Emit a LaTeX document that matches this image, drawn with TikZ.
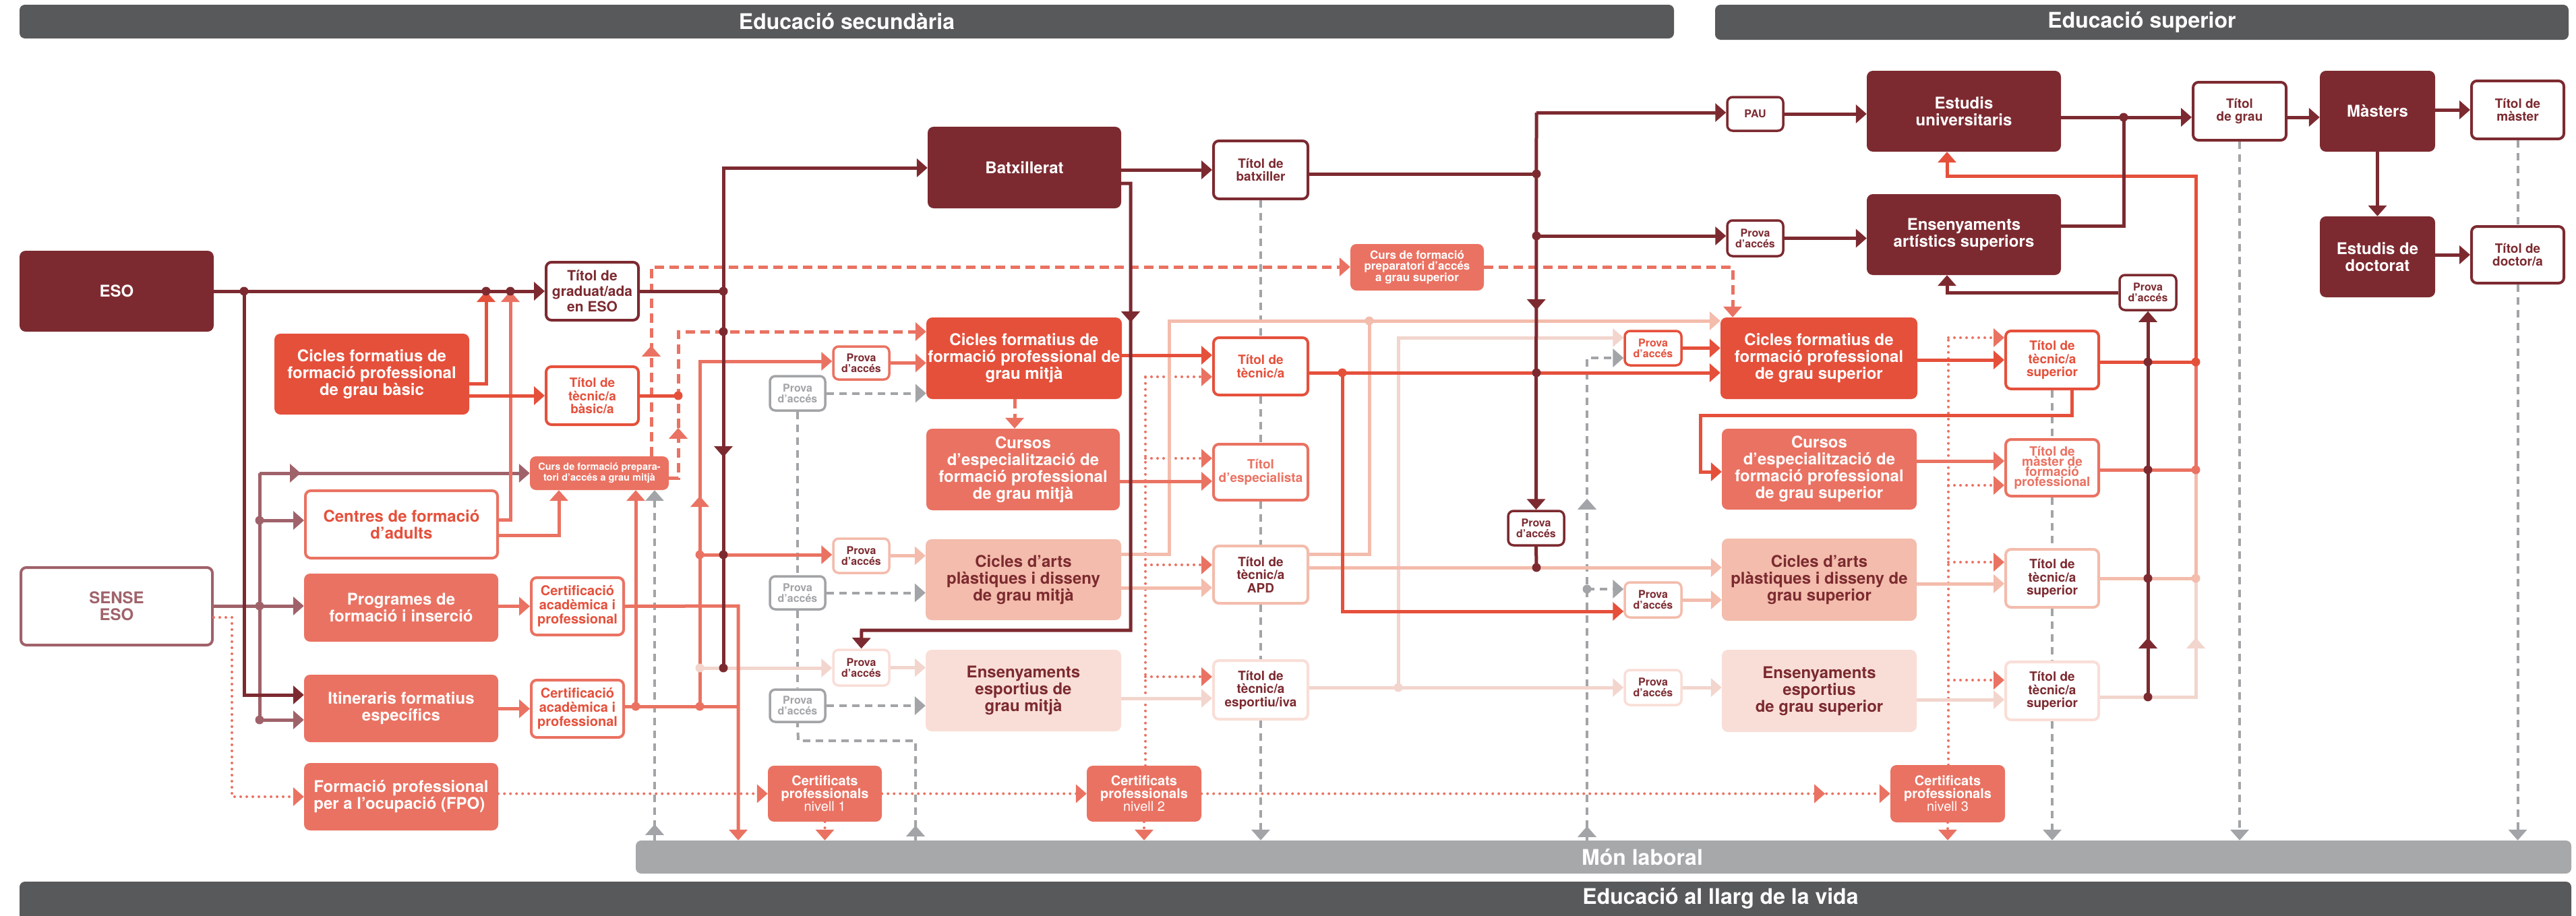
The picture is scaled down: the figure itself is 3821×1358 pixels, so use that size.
\documentclass[tikz,border=0pt]{standalone}
\usepackage{fontspec}
\setmainfont{TeX Gyre Heros}
\usetikzlibrary{arrows.meta,decorations.markings}

\definecolor{cdk}{RGB}{124,42,48}
\definecolor{crd}{RGB}{229,80,59}
\definecolor{csm}{RGB}{234,114,98}
\definecolor{cls}{RGB}{243,188,172}
\definecolor{cvl}{RGB}{249,222,215}
\definecolor{cvll}{RGB}{242,213,205}
\definecolor{cmv}{RGB}{160,98,106}
\definecolor{cgr}{RGB}{162,164,167}
\definecolor{cbar}{RGB}{88,89,91}
\definecolor{cmon}{RGB}{166,168,170}

\newcommand{\fbig}{\fontsize{24}{25}\selectfont\bfseries}
\newcommand{\ftit}{\fontsize{19}{19.5}\selectfont\bfseries}
\newcommand{\fgrad}{\fontsize{21}{23}\selectfont\bfseries}
\newcommand{\fprova}{\fontsize{16}{16}\selectfont\bfseries}
\newcommand{\fcert}{\fontsize{20}{21}\selectfont\bfseries}
\newcommand{\fcp}{\fontsize{20}{19}\selectfont\bfseries}
\newcommand{\fcurs}{\fontsize{14.5}{16}\selectfont\bfseries}
\newcommand{\fcpgs}{\fontsize{17}{16}\selectfont\bfseries}
\newcommand{\fmfp}{\fontsize{19}{15}\selectfont\bfseries}
\newcommand{\fhead}{\fontsize{32}{32}\selectfont\bfseries}

\begin{document}
\begin{tikzpicture}[x=1pt, y=-1pt,
    >={Triangle[length=16pt,width=27pt]},
    wh/.style 2 args={minimum width=#1pt, minimum height=#2pt},
    bigbox/.style={rounded corners=9pt, inner sep=0pt, align=center, font=\fbig, text=white},
    titbox/.style={draw, line width=4pt, fill=white, rounded corners=8pt, inner sep=0pt, align=center, font=\ftit},
    provabox/.style={titbox, line width=3.5pt, font=\fprova},
    barbox/.style={rounded corners=8pt, inner sep=0pt, text=white, font=\fhead},
    dkl/.style={draw=cdk, line width=5pt},
    rdl/.style={draw=crd, line width=5pt},
    sml/.style={draw=csm, line width=5pt},
    lsl/.style={draw=cls, line width=5pt},
    vll/.style={draw=cvll, line width=5pt},
    mvl/.style={draw=cmv, line width=5pt},
    grl/.style={draw=cgr, line width=4pt, dash pattern=on 11pt off 8pt},
    dtl/.style={draw=csm, line width=4pt, line cap=round, dash pattern=on 0pt off 9pt},
    dsl/.style={draw=csm, line width=5pt, dash pattern=on 14pt off 8pt},
    tipat/.style={postaction={decorate, decoration={markings, mark=at position #1 with {\arrow{>}}}}},
    twotips/.style 2 args={postaction={decorate, decoration={markings,
        mark=at position #1 with {\arrow{>}}, mark=at position #2 with {\arrow{>}}}}}
  ]
  \useasboundingbox (0,0) rectangle (3821,1358);

  % bars
  \node[barbox, fill=cbar, wh={2454}{50}] (hsec) at (1256,32) {Educació secundària};
  \node[barbox, fill=cbar, wh={1266}{52}] (hsup) at (3177,33) {Educació superior};
  \node[barbox, fill=cmon, wh={2871}{49}] (mon) at (2378.5,1271.5) {};
  \node[text=white, font=\fhead] (monlab) at (2436,1272) {Món laboral};
  \node[barbox, fill=cbar, wh={3785}{60}] (vida) at (1921.5,1338) {};
  \node[text=white, font=\fhead] (vidalab) at (2552,1333) {Educació al llarg de la vida};

  % left column
  \node[bigbox, fill=cdk, wh={288}{120}] (eso) at (173,432) {ESO};
  \node[titbox, draw=cmv, text=cmv, font=\fbig, wh={284}{115}] (sense) at (173,899.5) {SENSE\\ESO};
  \node[bigbox, fill=crd, wh={289}{120}] (cfgb) at (551.5,555) {Cicles formatius de\\formació professional\\de grau bàsic};
  \node[titbox, draw=csm, text=crd, font=\fbig, wh={285}{100}] (cfa) at (595.5,778) {Centres de formació\\d’adults};
  \node[bigbox, fill=csm, wh={288}{101}] (pfi) at (595,901.5) {Programes de\\formació i inserció};
  \node[bigbox, fill=csm, wh={288}{100}] (ife) at (595,1051) {Itineraris formatius\\específics};
  \node[bigbox, fill=csm, wh={288}{100}, align=left] (fpo) at (595,1182) {Formació\hspace{9pt}professional\\per a l’ocupació (FPO)};
  \node[titbox, draw=cdk, text=cdk, font=\fgrad, wh={137}{86}] (tgrad) at (878.5,432) {Títol de\\graduat/ada\\en ESO};
  \node[titbox, draw=crd, text=crd, wh={137}{86}] (tbasic) at (878.5,587) {Títol de\\tècnic/a\\bàsic/a};
  \node[bigbox, fill=csm, font=\fcurs, wh={206}{50}] (cpgm) at (889,702) {Curs de formació prepara-\\tori d’accés a grau mitjà};
  \node[titbox, draw=csm, text=crd, font=\fcert, wh={137}{85}] (cert1) at (856.5,899.5) {Certificació\\acadèmica i\\professional};
  \node[titbox, draw=csm, text=crd, font=\fcert, wh={137}{85}] (cert2) at (856.5,1051.5) {Certificació\\acadèmica i\\professional};

  % grau mitja
  \node[provabox, draw=cgr, text=cgr, wh={82}{51}] (pa1) at (1183,583.5) {Prova\\d’accés};
  \node[provabox, draw=cgr, text=cgr, wh={82}{49}] (pa2) at (1183,879.5) {Prova\\d’accés};
  \node[provabox, draw=cgr, text=cgr, wh={82}{48}] (pa3) at (1183,1047) {Prova\\d’accés};
  \node[provabox, draw=csm, text=cdk, wh={83}{49}] (pcfgm) at (1277.5,538.5) {Prova\\d’accés};
  \node[provabox, draw=cls, text=cdk, wh={83}{51}] (parts) at (1277.5,824.5) {Prova\\d’accés};
  \node[provabox, draw=cvl, text=cdk, wh={83}{53}] (pesp) at (1277.5,990.5) {Prova\\d’accés};
  \node[bigbox, fill=csm, font=\fcp, wh={169}{83}] (cp1) at (1223.5,1177.5) {Certificats\\professionals\\{\mdseries nivell 1}};
  \node[bigbox, fill=csm, font=\fcp, wh={170}{83}] (cp2) at (1697,1177.5) {Certificats\\professionals\\{\mdseries nivell 2}};
  \node[bigbox, fill=csm, font=\fcp, wh={170}{85}] (cp3) at (2889,1177.5) {Certificats\\professionals\\{\mdseries nivell 3}};
  \node[bigbox, fill=cdk, wh={287}{121}] (batx) at (1519.5,248.5) {Batxillerat};
  \node[bigbox, fill=crd, wh={290}{121}] (cfgm) at (1519,531.5) {Cicles formatius de\\formació professional de\\grau mitjà};
  \node[bigbox, fill=csm, wh={287}{121}] (cegm) at (1517.5,696.5) {Cursos\\d’especialització de\\formació professional\\de grau mitjà};
  \node[bigbox, fill=cls, text=cdk, wh={290}{120}] (capdm) at (1518,860) {Cicles d’arts\\plàstiques i disseny\\de grau mitjà};
  \node[bigbox, fill=cvl, text=cdk, wh={290}{121}] (eem) at (1518,1024.5) {Ensenyaments\\esportius de\\grau mitjà};
  \node[titbox, draw=cdk, text=cdk, wh={140}{86}] (tbatx) at (1870,252) {Títol de\\batxiller};
  \node[titbox, draw=crd, text=crd, wh={140}{85}] (ttec) at (1870,543.5) {Títol de\\tècnic/a};
  \node[titbox, draw=csm, text=csm, wh={140}{83}] (tesp) at (1870,700.5) {Títol\\d’especialista};
  \node[titbox, draw=cls, text=cdk, wh={140}{85}] (tapd) at (1870,852.5) {Títol de\\tècnic/a\\APD};
  \node[titbox, draw=cvl, text=cdk, wh={140}{87}] (tesport) at (1870,1023.5) {Títol de\\tècnic/a\\esportiu/iva};

  % grau superior
  \node[bigbox, fill=csm, font=\fcpgs, wh={198}{69}] (cpgs) at (2102,396.5) {Curs de formació\\preparatori d’accés\\a grau superior};
  \node[provabox, draw=cdk, text=cdk, wh={83}{50}] (pau) at (2603.5,169) {PAU};
  \node[provabox, draw=cdk, text=cdk, wh={83}{53}] (pas) at (2603.5,353.5) {Prova\\d’accés};
  \node[provabox, draw=cdk, text=cdk, wh={83}{51}] (pdark) at (2278.5,783.5) {Prova\\d’accés};
  \node[provabox, draw=crd, text=crd, wh={84}{51}] (pcfgs) at (2452,516.5) {Prova\\d’accés};
  \node[provabox, draw=cls, text=cdk, wh={84}{52}] (pcaps) at (2452,890) {Prova\\d’accés};
  \node[provabox, draw=cvl, text=cdk, wh={84}{52}] (pees) at (2452,1020) {Prova\\d’accés};
  \node[bigbox, fill=cdk, wh={288}{120}] (eu) at (2913,165) {Estudis\\universitaris};
  \node[bigbox, fill=cdk, wh={288}{120}] (eas) at (2913,348) {Ensenyaments\\artístics superiors};
  \node[bigbox, fill=crd, wh={292}{121}] (cfgs) at (2698,531.5) {Cicles formatius de\\formació professional\\de grau superior};
  \node[bigbox, fill=csm, wh={289}{120}] (ces) at (2698.5,696) {Cursos\\d’especialització de\\formació professional\\de grau superior};
  \node[bigbox, fill=cls, text=cdk, wh={289}{122}] (caps) at (2698.5,860) {Cicles d’arts\\plàstiques i disseny de\\grau superior};
  \node[bigbox, fill=cvl, text=cdk, wh={289}{122}] (ees) at (2698.5,1025) {Ensenyaments\\esportius\\de grau superior};
  \node[titbox, draw=crd, text=crd, wh={138}{86}] (ttsup) at (3044,534) {Títol de\\tècnic/a\\superior};
  \node[titbox, draw=csm, text=csm, font=\fmfp, wh={138}{84}] (tmfp) at (3044,694) {Títol de\\màster de\\formació\\professional};
  \node[titbox, draw=cls, text=cdk, wh={138}{86}] (ttsapd) at (3044,858) {Títol de\\tècnic/a\\superior};
  \node[titbox, draw=cvl, text=cdk, wh={138}{86}] (ttsesp) at (3044,1025) {Títol de\\tècnic/a\\superior};
  \node[provabox, draw=cdk, text=cdk, wh={84}{52}] (pas2) at (3186,434) {Prova\\d’accés};
  \node[titbox, draw=cdk, text=cdk, wh={138}{86}] (tgrau) at (3322,165) {Títol\\de grau};
  \node[bigbox, fill=cdk, wh={171}{120}] (mast) at (3526.5,165) {Màsters};
  \node[titbox, draw=cdk, text=cdk, wh={137}{86}] (tmast) at (3734.5,163) {Títol de\\màster};
  \node[bigbox, fill=cdk, wh={171}{120}] (doct) at (3526.5,381) {Estudis de\\doctorat};
  \node[titbox, draw=cdk, text=cdk, wh={137}{84}] (tdoct) at (3734.5,378) {Títol de\\doctor/a};

  % junctions
  \coordinate (eA) at (362,432);  \coordinate (eB) at (721,432);  \coordinate (eC) at (757,432);
  \coordinate (eD) at (1073,432); \coordinate (eG) at (1073,492); \coordinate (eF) at (1073,823);
  \coordinate (eE) at (1073,991); \coordinate (bA) at (1073,249); \coordinate (iA) at (362,1031);
  \coordinate (sA) at (344,916);  \coordinate (sB) at (344,1182);
  \coordinate (gA) at (721,569);  \coordinate (cA) at (757,771);  \coordinate (cB) at (829,794);
  \coordinate (mA) at (385,702);  \coordinate (mB) at (385,772);  \coordinate (mC) at (385,899);
  \coordinate (mD) at (385,1068);
  \coordinate (kA) at (1095,899); \coordinate (kB) at (943,1048); \coordinate (kC) at (1038,1048);
  \coordinate (kD) at (1095,1048); \coordinate (kE) at (1038,536); \coordinate (kF) at (1038,823);
  \coordinate (kG) at (1038,991);
  \coordinate (pA) at (966,396);  \coordinate (pB) at (1006,709); \coordinate (pC) at (1006,492);
  \coordinate (pD) at (1006,587); \coordinate (pF) at (971,1200);
  \coordinate (qA) at (1184,1099); \coordinate (qB) at (1358,1099);
  \coordinate (bB) at (1677,272); \coordinate (bC) at (1677,935); \coordinate (bD) at (1278,935);
  \coordinate (tA) at (1700,527); \coordinate (tB) at (1505,600); \coordinate (tC) at (1700,714);
  \coordinate (tD) at (1700,872); \coordinate (tE) at (1700,1036);
  \coordinate (dA) at (1699,559); \coordinate (dB) at (1699,680); \coordinate (dC) at (1699,838);
  \coordinate (dD) at (1699,1004);
  \coordinate (dE) at (2890,501); \coordinate (dF) at (2890,720); \coordinate (dG) at (2890,834);
  \coordinate (dH) at (2890,1009);
  \coordinate (uA) at (1734,822); \coordinate (uB) at (1734,476); \coordinate (uC) at (2031,476);
  \coordinate (uD) at (2031,822); \coordinate (uE) at (2279,842);
  \coordinate (vA) at (1991,553); \coordinate (vB) at (2279,553); \coordinate (vC) at (1991,907);
  \coordinate (wA) at (2074,1020); \coordinate (wB) at (2074,501);
  \coordinate (xA) at (2354,531); \coordinate (xB) at (2354,874);
  \coordinate (yA) at (2279,167); \coordinate (yB) at (2279,258); \coordinate (yC) at (2279,350);
  \coordinate (zA) at (2570,396); \coordinate (zB) at (3073,616); \coordinate (zC) at (2522,616);
  \coordinate (zD) at (2522,700); \coordinate (zE) at (2900,684); \coordinate (zF) at (2900,866);
  \coordinate (zG) at (2900,1038);
  \coordinate (rA) at (3186,537); \coordinate (rB) at (3257,537); \coordinate (rC) at (3186,697);
  \coordinate (rD) at (3257,697); \coordinate (rE) at (3186,858); \coordinate (rF) at (3257,858);
  \coordinate (rG) at (3186,1034); \coordinate (rH) at (3257,1034); \coordinate (rI) at (3257,261);
  \coordinate (rJ) at (2888,261); \coordinate (rK) at (2888,434);
  \coordinate (hA) at (3150,174); \coordinate (hB) at (3150,335);

  % gray dashed
  \draw[grl] (pa1.south) -- (pa2.north);
  \draw[grl] (pa2.south) -- (pa3.north);
  \draw[grl, tipat=22pt] (mon.north -| qB) -- (qB) -- (qA) -- (pa3.south);
  \draw[grl,->] (pa1.east) -- (cfgm.west |- pa1);
  \draw[grl,->] (pa2.east) -- (capdm.west |- pa2);
  \draw[grl,->] (pa3.east) -- (eem.west |- pa3);
  \draw[grl,->, tipat=24pt] (mon.north -| pF) -- (cpgm.south -| pF);
  \draw[grl] (tbatx.south) -- (ttec.north);
  \draw[grl] (ttec.south) -- (tesp.north);
  \draw[grl] (tesp.south) -- (tapd.north);
  \draw[grl] (tapd.south) -- (tesport.north);
  \draw[grl,->] (tesport.south) -- (mon.north -| tesport);
  \draw[grl,->, twotips={21pt}{507pt}] (mon.north -| xA) -- (xA) -- (pcfgs.west |- xA);
  \draw[grl,->] (xB) -- (pcaps.west |- xB);
  \draw[grl] (ttsup.south) -- (tmfp.north);
  \draw[grl] (tmfp.south) -- (ttsapd.north);
  \draw[grl] (ttsapd.south) -- (ttsesp.north);
  \draw[grl,->] (ttsesp.south) -- (mon.north -| ttsesp);
  \draw[grl,->] (tgrau.south) -- (mon.north -| tgrau);
  \draw[grl] (tmast.south) -- (tdoct.north);
  \draw[grl,->] (tdoct.south) -- (mon.north -| tdoct);

  % dotted
  \draw[dtl,->] (sense.east |- sA) -- (sA) -- (sB) -- (fpo.west |- sB);
  \draw[dtl,->] (fpo.east |- cp1) -- (cp1.west);
  \draw[dtl,->] (cp1.east) -- (cp2.west);
  \draw[dtl,->, tipat=925pt] (cp2.east) -- (cp3.west);
  \foreach \n in {cp1,cp2,cp3}
    \draw[dtl,->] (\n.south) -- (mon.north -| \n);
  \draw[dtl] (cp2.north -| dA) -- (dA);
  \foreach \c/\n in {dA/ttec,dB/tesp,dC/tapd,dD/tesport}
    \draw[dtl,->] (\c) -- (\n.west |- \c);
  \draw[dtl] (cp3.north -| dE) -- (dE);
  \foreach \c/\n in {dE/ttsup,dF/tmfp,dG/ttsapd,dH/ttsesp}
    \draw[dtl,->] (\c) -- (\n.west |- \c);

  % dashed
  \draw[dsl,->, tipat=164pt] (cpgm.north -| pA) -- (pA) -- (cpgs.west |- pA);
  \draw[dsl,->, tipat=88pt] (cpgm.east |- pB) -- (pB) -- (pC) -- (cfgm.west |- pC);
  \draw[dsl,->] (cfgm.south -| tB) -- (cegm.north -| tB);
  \draw[dsl,->] (cpgs.east |- zA) -- (zA) -- (cfgs.north -| zA);

  % mauve
  \draw[mvl,->] (sense.east |- mC) -- (pfi.west |- mC);
  \draw[mvl] (mA) -- (mD);
  \draw[mvl,->, tipat=61pt] (mA) -- (cpgm.west |- mA);
  \draw[mvl,->] (mB) -- (cfa.west |- mB);
  \draw[mvl,->] (mD) -- (ife.west |- mD);

  % very light
  \draw[vll,->] (kG) -- (pesp.west |- kG);
  \draw[vll,->] (pesp.east) -- (eem.west |- pesp);
  \draw[vll,->] (eem.east |- tE) -- (tesport.west |- tE);
  \draw[vll,->] (tesport.east |- wA) -- (pees.west |- wA);
  \draw[vll,->] (wA) -- (wB) -- (pcfgs.west |- wB);
  \draw[vll,->] (pees.east) -- (ees.west |- pees);
  \draw[vll,->] (ees.east |- zG) -- (ttsesp.west |- zG);
  \draw[vll, tipat=230pt] (ttsesp.east |- rG) -- (rH) -- (rF);

  % light salmon
  \draw[lsl,->] (parts.east) -- (capdm.west |- parts);
  \draw[lsl,->] (capdm.east |- tD) -- (tapd.west |- tD);
  \draw[lsl] (capdm.east |- uA) -- (uA) -- (uB) -- (uC);
  \draw[lsl] (tapd.east |- uD) -- (uD) -- (uC);
  \draw[lsl,->] (uC) -- (cfgs.west |- uC);
  \draw[lsl,->] (tapd.east |- uE) -- (caps.west |- uE);
  \draw[lsl,->] (pcaps.east) -- (caps.west |- pcaps);
  \draw[lsl,->] (caps.east |- zF) -- (ttsapd.west |- zF);
  \draw[lsl] (ttsapd.east |- rE) -- (rF) -- (rD);

  % salmon
  \draw[sml,->] (cfa.east |- cA) -- (cA) -- (eC);
  \draw[sml,->] (cfa.east |- cB) -- (cB) -- (cpgm.south -| cB);
  \draw[sml,->] (pfi.east |- cert1) -- (cert1.west);
  \draw[sml,->] (ife.east |- cert2) -- (cert2.west);
  \draw[sml,->] (cert1.east) -- (kA) -- (mon.north -| kA);
  \draw[sml] (cert2.east |- kB) -- (kD);
  \draw[sml,->] (kB) -- (cpgm.south -| kB);
  \draw[sml,->, tipat=312pt] (kC) -- (kE) -- (pcfgm.west |- kE);
  \draw[sml,->] (kF) -- (parts.west |- kF);
  \draw[sml,->] (pcfgm.east) -- (cfgm.west |- pcfgm);
  \draw[sml,->] (cegm.east |- tC) -- (tesp.west |- tC);
  \draw[sml,->] (ces.east |- zE) -- (tmfp.west |- zE);
  \draw[sml] (tmfp.east |- rC) -- (rD) -- (rB);

  % red
  \draw[rdl,->] (cfgb.east |- gA) -- (gA) -- (eB);
  \draw[rdl,->] (cfgb.east |- tbasic) -- (tbasic.west);
  \draw[rdl] (tbasic.east) -- (pD);
  \draw[rdl,->] (cfgm.east |- tA) -- (ttec.west |- tA);
  \draw[rdl,->] (ttec.east |- vA) -- (cfgs.west |- vA);
  \draw[rdl,->] (vA) -- (vC) -- (pcaps.west |- vC);
  \draw[rdl,->] (pcfgs.east) -- (cfgs.west |- pcfgs);
  \draw[rdl,->] (cfgs.east |- ttsup) -- (ttsup.west);
  \draw[rdl,->] (ttsup.south -| zB) -- (zB) -- (zC) -- (zD) -- (ces.west |- zD);
  \draw[rdl] (ttsup.east |- rA) -- (rB);
  \draw[rdl,->] (rB) -- (rI) -- (rJ) -- (eu.south -| rJ);

  % dark
  \draw[dkl,->] (eso.east) -- (tgrad.west);
  \draw[dkl,->] (eA) -- (iA) -- (ife.west |- iA);
  \draw[dkl] (tgrad.east) -- (eD);
  \draw[dkl,->] (eD) -- (bA) -- (batx.west |- bA);
  \draw[dkl, tipat=246pt] (eD) -- (eE);
  \draw[dkl,->] (batx.east |- tbatx) -- (tbatx.west);
  \draw[dkl,->, tipat=220pt] (batx.east |- bB) -- (bB) -- (bC) -- (bD) -- (pesp.north);
  \draw[dkl] (tbatx.east |- yB) -- (yB);
  \draw[dkl,->, tipat=293pt] (yA) -- (pdark.north);
  \draw[dkl,->] (yA) -- (pau.west |- yA);
  \draw[dkl,->] (yC) -- (pas.west |- yC);
  \draw[dkl,->] (pau.east) -- (eu.west |- pau);
  \draw[dkl,->] (pas.east) -- (eas.west |- pas);
  \draw[dkl] (pdark.south) -- (uE);
  \draw[dkl,->] (eu.east |- hA) -- (tgrau.west |- hA);
  \draw[dkl] (eas.east |- hB) -- (hB) -- (hA);
  \draw[dkl,->] (tgrau.east |- hA) -- (mast.west |- hA);
  \draw[dkl,->] (mast.east |- tmast) -- (tmast.west);
  \draw[dkl,->] (mast.south) -- (doct.north);
  \draw[dkl,->] (doct.east |- tdoct) -- (tdoct.west);
  \draw[dkl,->, tipat=88pt] (rG) -- (pas2.south);
  \draw[dkl,->] (pas2.west) -- (rK) -- (eas.south -| rK);

  % dots
  \foreach \c in {eA,eB,eC,eD,eG,eF,eE,yB,yC,vB,uE,hA,rA,rC,rE,rG}
    \fill[cdk] (\c) circle (6.5pt);
  \foreach \c in {mB,mC,mD} \fill[cmv] (\c) circle (6.5pt);
  \foreach \c in {pD,vA,rB} \fill[crd] (\c) circle (6.5pt);
  \foreach \c in {kB,kC,kF,rD} \fill[csm] (\c) circle (6.5pt);
  \foreach \c in {uC,rF} \fill[cls] (\c) circle (6.5pt);
  \foreach \c in {kG,wA} \fill[cvll] (\c) circle (6.5pt);
  \fill[cgr] (xB) circle (6.5pt);
\end{tikzpicture}
\end{document}
